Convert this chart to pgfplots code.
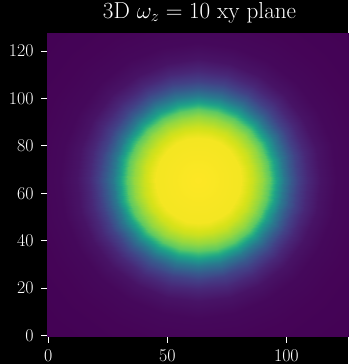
\RequirePackage{fix-cm}
\documentclass[border=0pt]{standalone}
\usepackage{pgfplots}
\pgfplotsset{compat=1.18}
\usetikzlibrary{backgrounds}
\begin{document}
\begin{tikzpicture}
\begin{axis}[
 scale only axis, width=304.6bp, height=303.2bp,
 xmin=-0.5, xmax=127.5, ymin=-0.5, ymax=127.5,
 enlargelimits=false,
 xtick={0,50,100}, ytick={0,20,40,60,80,100,120},
 tick align=outside, tick pos=left,
 major tick length=6bp,
 every tick/.style={white, line width=1bp},
 axis line style={white, line width=1bp},
 ticklabel style={white, font=\fontsize{18}{20}\selectfont},
 xticklabel style={inner sep=0pt, yshift=-6.5bp},
 yticklabel style={xshift=-4bp},
 title={3D $\omega_z = 10$ xy plane},
 title style={white, font=\fontsize{23.2}{26}\selectfont, at={(0.5,1)}, anchor=base, yshift=9bp, inner sep=0pt},
 colormap/viridis, point meta min=0, point meta max=1,
]
\addplot[surf, shader=interp, mesh/rows=14, mesh/cols=25, point meta=explicit]
 table[row sep=\\, x expr={63+\thisrow{r}*cos(\thisrow{a})}, y expr={65.5+\thisrow{r}*sin(\thisrow{a})}, meta=v] {
a r v\\
0 0 1.00\\ 15 0 1.00\\ 30 0 1.00\\ 45 0 1.00\\ 60 0 1.00\\ 75 0 1.00\\ 90 0 1.00\\ 105 0 1.00\\ 120 0 1.00\\ 135 0 1.00\\ 150 0 1.00\\ 165 0 1.00\\ 180 0 1.00\\ 195 0 1.00\\ 210 0 1.00\\ 225 0 1.00\\ 240 0 1.00\\ 255 0 1.00\\ 270 0 1.00\\ 285 0 1.00\\ 300 0 1.00\\ 315 0 1.00\\ 330 0 1.00\\ 345 0 1.00\\ 360 0 1.00\\
0 18 0.985\\ 15 18 0.985\\ 30 18 0.985\\ 45 18 0.985\\ 60 18 0.985\\ 75 18 0.985\\ 90 18 0.985\\ 105 18 0.985\\ 120 18 0.985\\ 135 18 0.985\\ 150 18 0.985\\ 165 18 0.985\\ 180 18 0.985\\ 195 18 0.985\\ 210 18 0.985\\ 225 18 0.985\\ 240 18 0.985\\ 255 18 0.985\\ 270 18 0.985\\ 285 18 0.985\\ 300 18 0.985\\ 315 18 0.985\\ 330 18 0.985\\ 345 18 0.985\\ 360 18 0.985\\
0 23 0.92\\ 15 23 0.92\\ 30 23 0.92\\ 45 23 0.92\\ 60 23 0.92\\ 75 23 0.92\\ 90 23 0.92\\ 105 23 0.92\\ 120 23 0.92\\ 135 23 0.92\\ 150 23 0.92\\ 165 23 0.92\\ 180 23 0.92\\ 195 23 0.92\\ 210 23 0.92\\ 225 23 0.92\\ 240 23 0.92\\ 255 23 0.92\\ 270 23 0.92\\ 285 23 0.92\\ 300 23 0.92\\ 315 23 0.92\\ 330 23 0.92\\ 345 23 0.92\\ 360 23 0.92\\
0 27 0.84\\ 15 27 0.84\\ 30 27 0.84\\ 45 27 0.84\\ 60 27 0.84\\ 75 27 0.84\\ 90 27 0.84\\ 105 27 0.84\\ 120 27 0.84\\ 135 27 0.84\\ 150 27 0.84\\ 165 27 0.84\\ 180 27 0.84\\ 195 27 0.84\\ 210 27 0.84\\ 225 27 0.84\\ 240 27 0.84\\ 255 27 0.84\\ 270 27 0.84\\ 285 27 0.84\\ 300 27 0.84\\ 315 27 0.84\\ 330 27 0.84\\ 345 27 0.84\\ 360 27 0.84\\
0 30 0.75\\ 15 30 0.75\\ 30 30 0.75\\ 45 30 0.75\\ 60 30 0.75\\ 75 30 0.75\\ 90 30 0.75\\ 105 30 0.75\\ 120 30 0.75\\ 135 30 0.75\\ 150 30 0.75\\ 165 30 0.75\\ 180 30 0.75\\ 195 30 0.75\\ 210 30 0.75\\ 225 30 0.75\\ 240 30 0.75\\ 255 30 0.75\\ 270 30 0.75\\ 285 30 0.75\\ 300 30 0.75\\ 315 30 0.75\\ 330 30 0.75\\ 345 30 0.75\\ 360 30 0.75\\
0 33 0.56\\ 15 33 0.56\\ 30 33 0.56\\ 45 33 0.56\\ 60 33 0.56\\ 75 33 0.56\\ 90 33 0.56\\ 105 33 0.56\\ 120 33 0.56\\ 135 33 0.56\\ 150 33 0.56\\ 165 33 0.56\\ 180 33 0.56\\ 195 33 0.56\\ 210 33 0.56\\ 225 33 0.56\\ 240 33 0.56\\ 255 33 0.56\\ 270 33 0.56\\ 285 33 0.56\\ 300 33 0.56\\ 315 33 0.56\\ 330 33 0.56\\ 345 33 0.56\\ 360 33 0.56\\
0 36 0.40\\ 15 36 0.40\\ 30 36 0.40\\ 45 36 0.40\\ 60 36 0.40\\ 75 36 0.40\\ 90 36 0.40\\ 105 36 0.40\\ 120 36 0.40\\ 135 36 0.40\\ 150 36 0.40\\ 165 36 0.40\\ 180 36 0.40\\ 195 36 0.40\\ 210 36 0.40\\ 225 36 0.40\\ 240 36 0.40\\ 255 36 0.40\\ 270 36 0.40\\ 285 36 0.40\\ 300 36 0.40\\ 315 36 0.40\\ 330 36 0.40\\ 345 36 0.40\\ 360 36 0.40\\
0 39 0.28\\ 15 39 0.28\\ 30 39 0.28\\ 45 39 0.28\\ 60 39 0.28\\ 75 39 0.28\\ 90 39 0.28\\ 105 39 0.28\\ 120 39 0.28\\ 135 39 0.28\\ 150 39 0.28\\ 165 39 0.28\\ 180 39 0.28\\ 195 39 0.28\\ 210 39 0.28\\ 225 39 0.28\\ 240 39 0.28\\ 255 39 0.28\\ 270 39 0.28\\ 285 39 0.28\\ 300 39 0.28\\ 315 39 0.28\\ 330 39 0.28\\ 345 39 0.28\\ 360 39 0.28\\
0 42 0.19\\ 15 42 0.19\\ 30 42 0.19\\ 45 42 0.19\\ 60 42 0.19\\ 75 42 0.19\\ 90 42 0.19\\ 105 42 0.19\\ 120 42 0.19\\ 135 42 0.19\\ 150 42 0.19\\ 165 42 0.19\\ 180 42 0.19\\ 195 42 0.19\\ 210 42 0.19\\ 225 42 0.19\\ 240 42 0.19\\ 255 42 0.19\\ 270 42 0.19\\ 285 42 0.19\\ 300 42 0.19\\ 315 42 0.19\\ 330 42 0.19\\ 345 42 0.19\\ 360 42 0.19\\
0 46 0.11\\ 15 46 0.11\\ 30 46 0.11\\ 45 46 0.11\\ 60 46 0.11\\ 75 46 0.11\\ 90 46 0.11\\ 105 46 0.11\\ 120 46 0.11\\ 135 46 0.11\\ 150 46 0.11\\ 165 46 0.11\\ 180 46 0.11\\ 195 46 0.11\\ 210 46 0.11\\ 225 46 0.11\\ 240 46 0.11\\ 255 46 0.11\\ 270 46 0.11\\ 285 46 0.11\\ 300 46 0.11\\ 315 46 0.11\\ 330 46 0.11\\ 345 46 0.11\\ 360 46 0.11\\
0 51 0.05\\ 15 51 0.05\\ 30 51 0.05\\ 45 51 0.05\\ 60 51 0.05\\ 75 51 0.05\\ 90 51 0.05\\ 105 51 0.05\\ 120 51 0.05\\ 135 51 0.05\\ 150 51 0.05\\ 165 51 0.05\\ 180 51 0.05\\ 195 51 0.05\\ 210 51 0.05\\ 225 51 0.05\\ 240 51 0.05\\ 255 51 0.05\\ 270 51 0.05\\ 285 51 0.05\\ 300 51 0.05\\ 315 51 0.05\\ 330 51 0.05\\ 345 51 0.05\\ 360 51 0.05\\
0 58 0.02\\ 15 58 0.02\\ 30 58 0.02\\ 45 58 0.02\\ 60 58 0.02\\ 75 58 0.02\\ 90 58 0.02\\ 105 58 0.02\\ 120 58 0.02\\ 135 58 0.02\\ 150 58 0.02\\ 165 58 0.02\\ 180 58 0.02\\ 195 58 0.02\\ 210 58 0.02\\ 225 58 0.02\\ 240 58 0.02\\ 255 58 0.02\\ 270 58 0.02\\ 285 58 0.02\\ 300 58 0.02\\ 315 58 0.02\\ 330 58 0.02\\ 345 58 0.02\\ 360 58 0.02\\
0 70 0.008\\ 15 70 0.008\\ 30 70 0.008\\ 45 70 0.008\\ 60 70 0.008\\ 75 70 0.008\\ 90 70 0.008\\ 105 70 0.008\\ 120 70 0.008\\ 135 70 0.008\\ 150 70 0.008\\ 165 70 0.008\\ 180 70 0.008\\ 195 70 0.008\\ 210 70 0.008\\ 225 70 0.008\\ 240 70 0.008\\ 255 70 0.008\\ 270 70 0.008\\ 285 70 0.008\\ 300 70 0.008\\ 315 70 0.008\\ 330 70 0.008\\ 345 70 0.008\\ 360 70 0.008\\
0 93 0.0\\ 15 93 0.0\\ 30 93 0.0\\ 45 93 0.0\\ 60 93 0.0\\ 75 93 0.0\\ 90 93 0.0\\ 105 93 0.0\\ 120 93 0.0\\ 135 93 0.0\\ 150 93 0.0\\ 165 93 0.0\\ 180 93 0.0\\ 195 93 0.0\\ 210 93 0.0\\ 225 93 0.0\\ 240 93 0.0\\ 255 93 0.0\\ 270 93 0.0\\ 285 93 0.0\\ 300 93 0.0\\ 315 93 0.0\\ 330 93 0.0\\ 345 93 0.0\\ 360 93 0.0\\
};
\coordinate (BL) at (axis cs:-20.3,-12.0);
\coordinate (TR) at (axis cs:126.0,141.6);
\end{axis}
\pgfresetboundingbox
\useasboundingbox (BL) rectangle (TR);
\begin{scope}[on background layer]
\fill[black] (BL) rectangle (TR);
\end{scope}
\end{tikzpicture}
\end{document}
